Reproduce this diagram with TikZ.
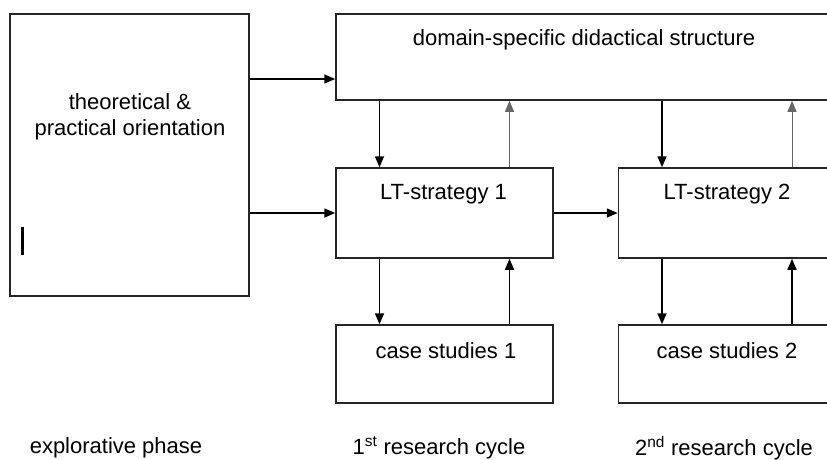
\documentclass[tikz,border=0pt]{standalone}
\usepackage{fontspec}
\setmainfont{Liberation Sans}
\usetikzlibrary{arrows.meta}

\begin{document}
\begin{tikzpicture}[x=1pt,y=-1pt,line width=1.5pt,>={Triangle[length=11pt,width=9pt]},
	font=\fontsize{22}{26}\selectfont,every node/.style={inner sep=0pt}]
	\useasboundingbox (0,0) rectangle (827,459);
	\clip (0,0) rectangle (827,459);
	\begin{scope}[draw=black!85]
	\tikzstyle{every node}=[draw,rectangle,inner sep=0pt]
	\node[minimum width=239pt,minimum height=282pt] (orient) at (129.5,155) {};
	\node[minimum width=564pt,minimum height=86pt] (top) at (618,57) {};
	\foreach \i/\x in {1/444.5,2/727} {
		\node[minimum width=217pt,minimum height=90pt] (lt\i) at (\x,213) {};
		\node[minimum width=217pt,minimum height=78pt] (cs\i) at (\x,364) {};
	}
	\end{scope}
	% texts
	\node[align=center] (orienttxt) at (130,117) {theoretical \&\\practical orientation};
	\node (toptxt) at (584,40) {domain-specific didactical structure};
	\node (lt1txt) at (443.5,194) {LT-strategy 1};
	\node (lt2txt) at (727,194) {LT-strategy 2};
	\node (cs1txt) at (446,351) {case studies 1};
	\node (cs2txt) at (727,351) {case studies 2};
	\node (phase0) at (116,448) {explorative phase};
	\node (phase1) at (439,448) {1\textsuperscript{st} research cycle};
	\node (phase2) at (724,448) {2\textsuperscript{nd} research cycle};
	\draw[line width=3pt] (22,227) -- (22,255);
	% connectors
	\coordinate (tin) at ([yshift=-22pt]top.west);
	\draw[->] (orient.east |- tin) -- (tin);
	\draw[->] (lt1.west -| orient.east) -- (lt1.west);
	\draw[->] (lt1.east) -- (lt2.west);
	\foreach \i in {1,2} {
		\coordinate (dn\i) at ([xshift=-65pt]lt\i.north);
		\coordinate (up\i) at ([xshift=65pt]lt\i.north);
		\draw[->] (dn\i |- top.south) -- (dn\i);
		\draw[->,line width=0.8pt,black!60] (up\i) -- (up\i |- top.south);
		\draw[->] (dn\i |- lt\i.south) -- (dn\i |- cs\i.north);
		\draw[->] (up\i |- cs\i.north) -- (up\i |- lt\i.south);
	}
\end{tikzpicture}
\end{document}
